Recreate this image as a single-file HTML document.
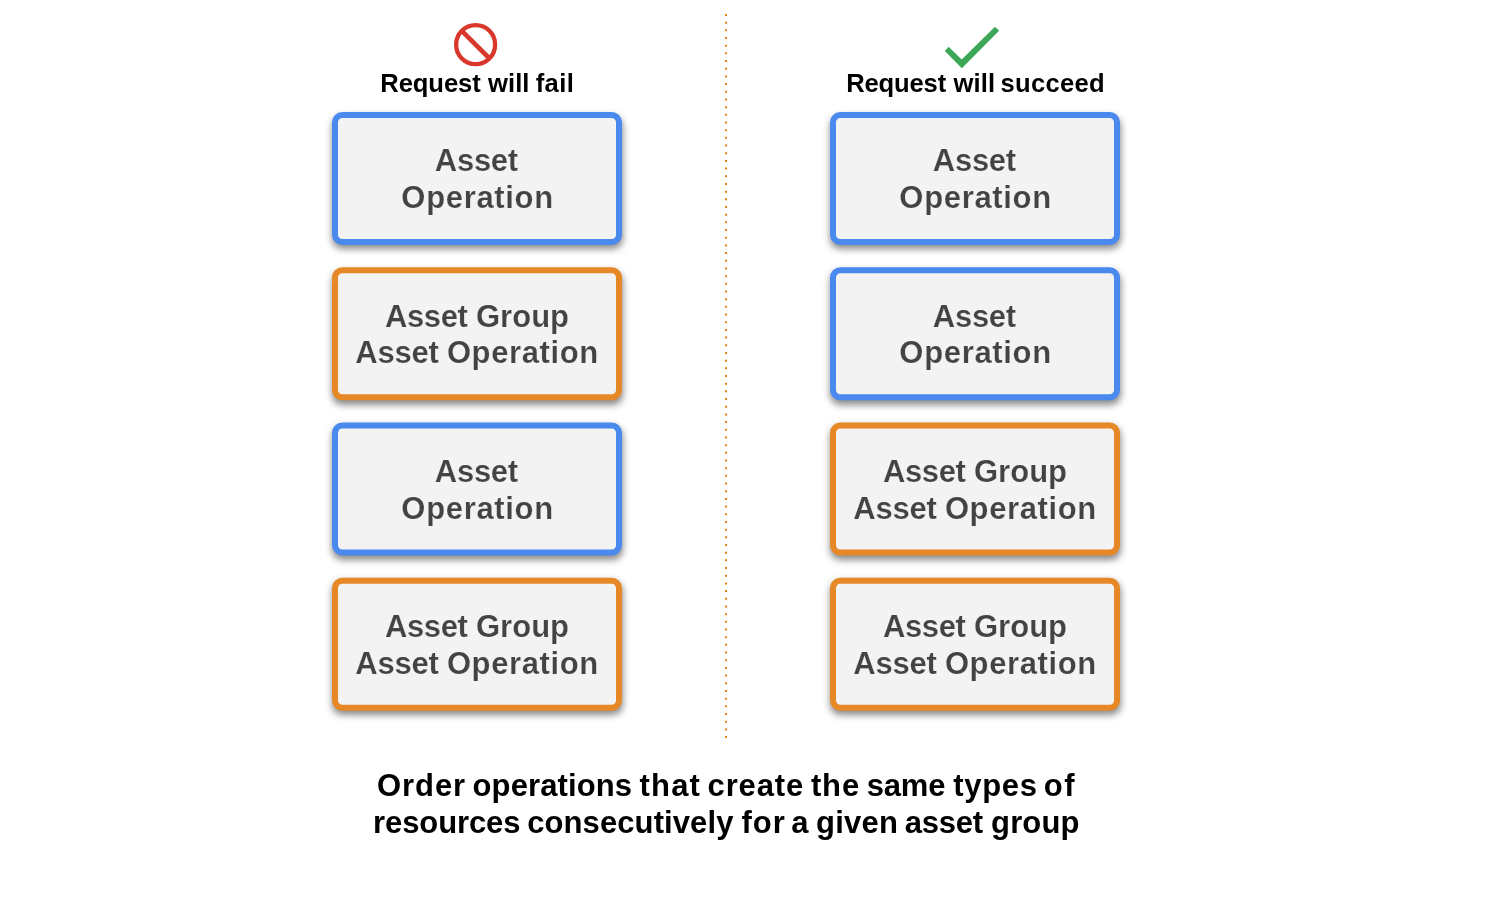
<!DOCTYPE html>
<html lang="en">
<head>
<meta charset="utf-8">
<title>Order operations by resource type</title>
<style>
*,*::before{box-sizing:border-box;margin:0;padding:0}
html,body{width:1505px;height:901px;background:#fff;overflow:hidden}
body{font-family:"Liberation Sans", sans-serif;font-weight:700}
.stage{position:relative;width:1505px;height:901px;background:#fff;overflow:hidden;will-change:transform}
.divider,.icon{position:absolute;left:0;top:0;overflow:visible}
.line{position:absolute;white-space:nowrap;line-height:normal}
.hdr{font-size:25.6px;color:#000}
.cap{font-size:31.0px;color:#000}
.box{position:absolute;width:290px;height:133px;font-size:31.0px;color:#434343;-webkit-text-stroke:0.2px #f3f3f3}
.box::before{content:"";position:absolute;left:0;top:0;width:100%;height:100%;border:6px solid #4a89ee;border-radius:10.3px;background:#f3f3f3;
  box-shadow:0.3px 4px 7.5px rgba(0,0,0,.46);transform:translateY(var(--dy,0px))}
.box.group::before{border-color:#e68825}
.box .line{left:0;top:0}
</style>
</head>
<body>
<div class="stage">
<svg class="divider" width="1505" height="901" viewBox="0 0 1505 901"><line x1="726" y1="13.95" x2="726" y2="738.2" stroke="#e7810f" stroke-width="2" stroke-dasharray="2 5.682"/></svg>
<svg class="icon" width="1505" height="901" viewBox="0 0 1505 901"><g fill="none" stroke="#d9372c"><circle cx="475.63" cy="44.63" r="19.5" stroke-width="4.3"/><path d="M461.8 30.8L489.5 58.5" stroke-width="4.6"/></g><path fill="#3ba757" d="M948.65 46.82L944.79 50.95L961.84 68.26L999.12 30.85L994.99 26.85L961.64 59.47Z"/></svg>
<div class="line hdr" style="left:380.25px;top:69.00px"><span style="letter-spacing:-0.08px">Request</span> <span style="letter-spacing:0.07px;margin-left:0.24px">will</span> <span style="letter-spacing:0.38px;margin-left:-1.03px">fail</span></div>
<div class="line hdr" style="left:846.15px;top:69.00px"><span style="letter-spacing:-0.15px">Request</span> <span style="letter-spacing:0.13px;margin-left:0.30px">will</span> <span style="letter-spacing:0.27px;margin-left:-1.80px">succeed</span></div>
<div class="box" style="left:332px;top:112px"><div class="line" style="left:102.85px;top:31.00px"><span style="letter-spacing:-0.29px">Asset</span></div><div class="line" style="left:69.35px;top:68.00px"><span style="letter-spacing:0.67px">Operation</span></div></div>
<div class="box group" style="left:332px;top:267px;--dy:0.25px"><div class="line" style="left:52.95px;top:32.00px"><span style="letter-spacing:-0.39px">Asset</span> <span style="letter-spacing:0.03px;margin-left:-0.11px">Group</span></div><div class="line" style="left:23.25px;top:68.00px"><span style="letter-spacing:-0.21px">Asset</span> <span style="letter-spacing:0.61px;margin-left:-0.39px">Operation</span></div></div>
<div class="box" style="left:332px;top:422px;--dy:0.5px"><div class="line" style="left:102.85px;top:32.00px"><span style="letter-spacing:-0.29px">Asset</span></div><div class="line" style="left:69.35px;top:69.00px"><span style="letter-spacing:0.67px">Operation</span></div></div>
<div class="box group" style="left:332px;top:578px;--dy:-0.25px"><div class="line" style="left:52.95px;top:31.00px"><span style="letter-spacing:-0.39px">Asset</span> <span style="letter-spacing:0.03px;margin-left:-0.11px">Group</span></div><div class="line" style="left:23.25px;top:68.00px"><span style="letter-spacing:-0.21px">Asset</span> <span style="letter-spacing:0.61px;margin-left:-0.39px">Operation</span></div></div>
<div class="box" style="left:830px;top:112px"><div class="line" style="left:102.85px;top:31.00px"><span style="letter-spacing:-0.29px">Asset</span></div><div class="line" style="left:69.35px;top:68.00px"><span style="letter-spacing:0.67px">Operation</span></div></div>
<div class="box" style="left:830px;top:267px;--dy:0.25px"><div class="line" style="left:102.85px;top:32.00px"><span style="letter-spacing:-0.29px">Asset</span></div><div class="line" style="left:69.35px;top:68.00px"><span style="letter-spacing:0.67px">Operation</span></div></div>
<div class="box group" style="left:830px;top:422px;--dy:0.5px"><div class="line" style="left:52.95px;top:32.00px"><span style="letter-spacing:-0.39px">Asset</span> <span style="letter-spacing:0.03px;margin-left:-0.11px">Group</span></div><div class="line" style="left:23.25px;top:69.00px"><span style="letter-spacing:-0.21px">Asset</span> <span style="letter-spacing:0.61px;margin-left:-0.39px">Operation</span></div></div>
<div class="box group" style="left:830px;top:578px;--dy:-0.25px"><div class="line" style="left:52.95px;top:31.00px"><span style="letter-spacing:-0.39px">Asset</span> <span style="letter-spacing:0.03px;margin-left:-0.11px">Group</span></div><div class="line" style="left:23.25px;top:68.00px"><span style="letter-spacing:-0.21px">Asset</span> <span style="letter-spacing:0.61px;margin-left:-0.39px">Operation</span></div></div>
<div class="line cap" style="left:377.05px;top:768.00px"><span style="letter-spacing:0.91px">Order</span> <span style="letter-spacing:0.11px;margin-left:-2.10px">operations</span> <span style="letter-spacing:1.23px;margin-left:-1.34px">that</span> <span style="letter-spacing:0.84px;margin-left:-2.22px">create</span> <span style="letter-spacing:0.85px;margin-left:-1.66px">the</span> <span style="letter-spacing:-0.17px;margin-left:-1.91px">same</span> <span style="letter-spacing:0.69px;margin-left:-0.69px">types</span> <span style="letter-spacing:1.50px;margin-left:-2.58px">of</span></div>
<div class="line cap" style="left:373.10px;top:805.00px"><span style="letter-spacing:-0.11px">resources</span> <span style="letter-spacing:0.10px;margin-left:-1.77px">consecutively</span> <span style="letter-spacing:1.02px;margin-left:-0.61px">for</span> <span style="margin-left:-3.41px">a</span> <span style="letter-spacing:0.29px;margin-left:-1.11px">given</span> <span style="letter-spacing:-0.22px;margin-left:-2.27px">asset</span> <span style="letter-spacing:0.14px;margin-left:-0.43px">group</span></div>
</div>
</body>
</html>
